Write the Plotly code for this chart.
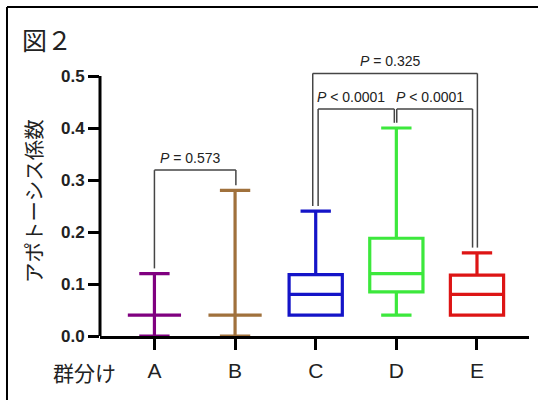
import plotly.graph_objects as go

# ---- data ----
groups = ["A", "B", "C", "D", "E"]
q1_vals = [0.04, 0.04, 0.04, 0.085, 0.04]
median_vals = [0.04, 0.04, 0.08, 0.12, 0.08]
q3_vals = [0.04, 0.04, 0.118, 0.188, 0.117]
min_vals = [0.0, 0.0, 0.04, 0.04, 0.04]
max_vals = [0.12, 0.28, 0.24, 0.40, 0.16]
box_colors = ["#800080", "#A0713C", "#1414C8", "#3CE83C", "#DD1515"]

# comparisons
comp_left = ["A", "C", "D", "C"]
comp_right = ["B", "D", "E", "E"]
comp_labels = ["<i>P</i> = 0.573", "<i>P</i> < 0.0001", "<i>P</i> < 0.0001", "<i>P</i> = 0.325"]
comp_levels = [0.319, 0.4365, 0.4365, 0.505]
comp_off_left = [0.0, 0.03, 0.005, -0.037]
comp_off_right = [0.01, -0.025, -0.055, 0.005]

y_ticks = [0.0, 0.1, 0.2, 0.3, 0.4, 0.5]

FONT = "Arial, Liberation Sans, Noto Sans CJK JP, sans-serif"
JFONT = "Noto Sans CJK JP, sans-serif"

fig = go.Figure()
for g, a, m, b, lo, hi, c in zip(groups, q1_vals, median_vals, q3_vals, min_vals, max_vals, box_colors):
    fig.add_trace(go.Box(
        x=[g], q1=[a], median=[m], q3=[b], lowerfence=[lo], upperfence=[hi],
        width=0.66, whiskerwidth=0.57,
        line=dict(color=c, width=3.2),
        fillcolor="rgba(0,0,0,0)",
        boxpoints=False, showlegend=False, hoverinfo="skip",
    ))

idx = {g: i for i, g in enumerate(groups)}
shapes = []
annotations = []
gap = 0.01
line_style = dict(color="#454545", width=1.5)
for gl, gr, lab, lev, ol, orr in zip(comp_left, comp_right, comp_labels, comp_levels, comp_off_left, comp_off_right):
    il, ir = idx[gl], idx[gr]
    xl, xr = il + ol, ir + orr
    yl = max_vals[il] + gap
    yr = max_vals[ir] + gap
    for (x0, y0, x1, y1) in [(xl, yl, xl, lev), (xl, lev, xr, lev), (xr, lev, xr, yr)]:
        shapes.append(dict(type="line", xref="x", yref="y", x0=x0, y0=y0, x1=x1, y1=y1,
                           line=line_style, layer="above"))
    annotations.append(dict(x=(xl + xr) / 2 - 0.06, y=lev + 0.004, xref="x", yref="y",
                            text=lab, showarrow=False, yanchor="bottom", xanchor="center",
                            font=dict(family=FONT, size=14, color="#222222")))

# y axis line (only up to 0.5)
shapes.append(dict(type="line", xref="paper", yref="y", x0=0, x1=0, y0=0, y1=y_ticks[-1],
                   line=dict(color="black", width=3), layer="above"))
# outer frame (left and top edges)
shapes.append(dict(type="line", xref="paper", yref="paper", x0=-0.2168, x1=-0.2168, y0=-0.3, y1=1.1503,
                   line=dict(color="black", width=2)))
shapes.append(dict(type="line", xref="paper", yref="paper", x0=-0.2168, x1=1.1, y0=1.1503, y1=1.1503,
                   line=dict(color="black", width=2)))

annotations.append(dict(x=-0.156, y=0.26, xref="paper", yref="y", text="アポトーシス係数",
                        textangle=-90, showarrow=False, xanchor="center", yanchor="middle",
                        font=dict(family=JFONT, size=20.5, color="#222222")))
annotations.append(dict(x=-0.037, y=-0.126, xref="paper", yref="paper", text="群分け",
                        showarrow=False, xanchor="center", yanchor="middle",
                        font=dict(family=JFONT, size=21, color="#222222")))
annotations.append(dict(x=-0.124, y=1.0385, xref="paper", yref="paper", text="図２",
                        showarrow=False, xanchor="center", yanchor="middle",
                        font=dict(family=JFONT, size=25, color="#222222")))

fig.update_layout(
    width=538, height=400,
    margin=dict(l=100, r=9, t=50, b=64),
    paper_bgcolor="white", plot_bgcolor="white",
    shapes=shapes, annotations=annotations,
    boxmode="overlay",
    xaxis=dict(
        type="category", categoryorder="array", categoryarray=groups,
        range=[-0.675, 4.645],
        showline=True, linecolor="black", linewidth=3,
        ticks="outside", ticklen=11, tickwidth=3, tickcolor="black",
        tickfont=dict(family=FONT, size=21, color="#222222"),
        ticklabelstandoff=3,
        showgrid=False, zeroline=False, layer="below traces",
    ),
    yaxis=dict(
        range=[0, 0.55],
        tickvals=y_ticks, tickformat=".1f",
        showline=False,
        ticks="outside", ticklen=11, tickwidth=3, tickcolor="black",
        tickfont=dict(family=FONT, size=17, color="#222222", weight="bold"),
        showgrid=False, zeroline=False,
    ),
)

fig.write_html("out.html", config={"displayModeBar": False},
               post_script="document.body.style.margin='0';")
